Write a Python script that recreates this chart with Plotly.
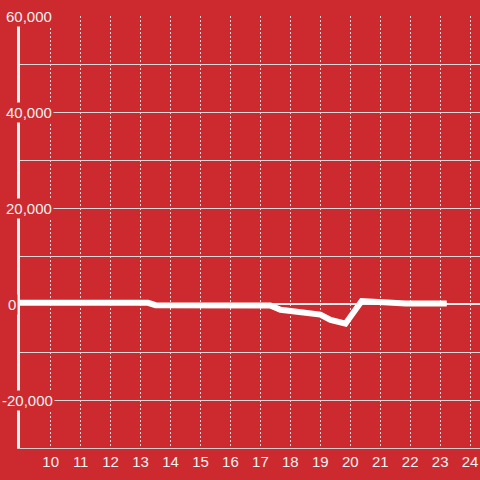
import plotly.graph_objects as go

# data
x_vals = [8.97, 13.25, 13.5, 17.33, 17.67, 18.0, 19.0, 19.34, 19.84, 20.38, 20.74, 21.68, 21.85, 23.22]
y_vals = [250, 250, -250, -300, -1200, -1500, -2200, -3300, -4100, 600, 450, 300, 100, 100]

x_ticks = list(range(10, 25))
y_labels = [60000, 40000, 20000, 0, -20000]
y_label_text = ['60,000', '40,000', '20,000', '0', '-20,000']
y_label_px = [6, 6, 6, 8, 2]   # left edge of each label, in px

BG = '#cc2a2f'
GRID = '#d9d9d9'
TXT = '#f0f0f0'
FONT = 'Liberation Sans, Arial, sans-serif'

fig = go.Figure()

fig.add_trace(go.Scatter(
    x=x_vals,
    y=y_vals,
    mode='lines',
    line=dict(color='#ffffff', width=6),
    hoverinfo='skip'
))

# y labels as boxes, so they sit over the axis line and grid
for v, t, px in zip(y_labels, y_label_text, y_label_px):
    fig.add_annotation(
        x=0, xref='paper', y=v, yref='y',
        text=t, showarrow=False,
        xanchor='left', yanchor='middle',
        xshift=px - 20 - 2,
        bgcolor=BG, borderpad=1,
        font=dict(color=TXT, size=15, family=FONT)
    )

fig.update_layout(
    width=480, height=480,
    margin=dict(l=20, r=0, t=16, b=32),
    paper_bgcolor=BG,
    plot_bgcolor=BG,
    showlegend=False,
    font=dict(color=TXT, size=15, family=FONT),
    xaxis=dict(
        range=[8.975, 24.33],
        tickmode='array', tickvals=x_ticks,
        showgrid=True, gridcolor=GRID, gridwidth=1, griddash='2px,2px',
        showline=True, linecolor='#cccccc', linewidth=1,
        zeroline=False, ticks='',
        tickfont=dict(color=TXT, size=15)
    ),
    yaxis=dict(
        range=[-30000, 60000],
        tickmode='linear', tick0=0, dtick=10000,
        showticklabels=False,
        showgrid=True, gridcolor=GRID, gridwidth=1,
        zeroline=True, zerolinecolor='#eeeeee', zerolinewidth=2,
        showline=True, linecolor='#f2f2f2', linewidth=3,
        ticks=''
    )
)

fig.write_html("out.html", config={'displayModeBar': False},
               post_script="document.body.style.margin='0';")
